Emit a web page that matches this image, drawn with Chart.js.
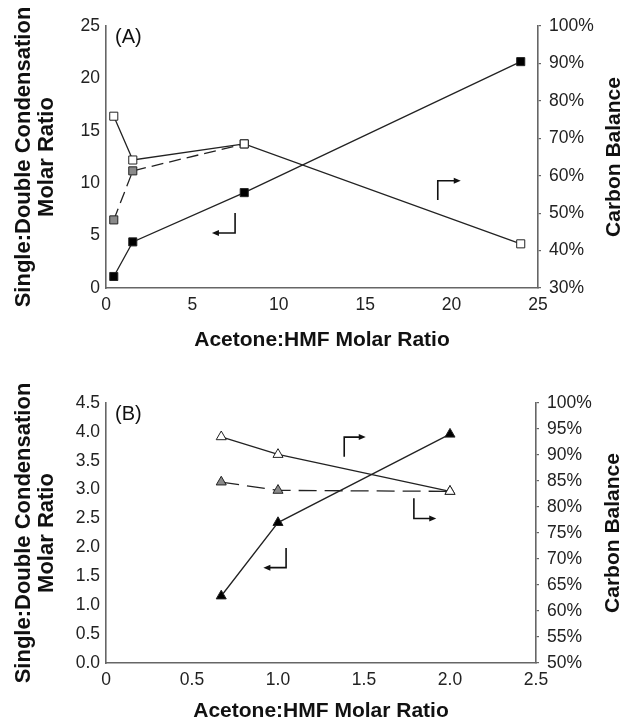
<!DOCTYPE html>
<html><head><meta charset="utf-8">
<script src="https://cdn.jsdelivr.net/npm/chart.js@4/dist/chart.umd.min.js"></script>
<style>
html,body{margin:0;padding:0;background:#fff;overflow:hidden;width:624px;height:722px;}
canvas{position:absolute;left:0;display:block;}
#cA{top:0}
#cB{top:360px}
</style></head><body>
<canvas id="cA" width="624" height="360"></canvas>
<canvas id="cB" width="624" height="362"></canvas>
<script>
// ---------- Panel (A) data ----------
const ratioA = [0.45, 1.55, 8, 24];               // Acetone:HMF molar ratio
const singleDoubleA = [1.1, 4.4, 9.1, 21.6];      // black squares, left axis
const carbonA = [75.9, 64.2, 68.5, 41.8];         // white squares, right axis (%)
const carbonGrayA = [48.2, 61.3, 68.5];           // gray squares (dashed), right axis (%)
const xRangeA = [0, 25, 5];
const leftRangeA = [0, 25, 5];
const rightRangeA = [30, 100, 10];

// ---------- Panel (B) data ----------
const ratioB = [0.67, 1, 2];
const singleDoubleB = [1.16, 2.43, 3.96];         // black triangles, left axis
const carbonB = [93.5, 90.1, 83.0];               // white triangles, right axis (%)
const carbonGrayB = [84.8, 83.2, 83.0];           // gray triangles (dashed), right axis (%)
const xRangeB = [0, 2.5, 0.5];
const leftRangeB = [0, 4.5, 0.5];
const rightRangeB = [50, 100, 5];

// annotation arrows in data units: [x, yStart, yCorner, xTip]
const arrowsA = [[7.47, 7.16, 5.25, 6.13], [19.2, 8.4, 10.24, 20.53]];
const arrowsB = [[1.047, 1.99, 1.65, 0.915], [1.385, 3.57, 3.91, 1.51], [1.79, 2.85, 2.50, 1.92]];

const FONT = "'Liberation Sans', Arial, Helvetica, sans-serif";
Chart.defaults.font.family = FONT;
Chart.defaults.color = '#222';

const pts = (xs, ys) => ys.map((y, i) => ({x: xs[i], y}));

function overlay(panel, arrows, rtX) {
  return {
    id: 'overlay' + panel,
    afterDraw(chart) {
      const ctx = chart.ctx, xs = chart.scales.x, ys = chart.scales.y, ca = chart.chartArea;
      ctx.save();
      ctx.fillStyle = '#111';
      ctx.font = '20px ' + FONT;
      ctx.textAlign = 'left';
      ctx.textBaseline = 'middle';
      ctx.fillText(panel, ca.left + 9, ca.top + 11);
      ctx.save();
      ctx.translate(rtX, (ca.top + ca.bottom) / 2);
      ctx.rotate(-Math.PI / 2);
      ctx.textAlign = 'center';
      ctx.font = 'bold 21px ' + FONT;
      ctx.fillText('Carbon Balance', 0, 0);
      ctx.restore();
      ctx.strokeStyle = '#111';
      ctx.lineWidth = 1.6;
      for (const a of arrows) {
        const px = xs.getPixelForValue(a[0]);
        const p1 = ys.getPixelForValue(a[1]);
        const p2 = ys.getPixelForValue(a[2]);
        const pt = xs.getPixelForValue(a[3]);
        const dir = Math.sign(pt - px);
        ctx.beginPath();
        ctx.moveTo(px, p1);
        ctx.lineTo(px, p2);
        ctx.lineTo(pt - dir * 5, p2);
        ctx.stroke();
        ctx.beginPath();
        ctx.moveTo(pt, p2);
        ctx.lineTo(pt - dir * 7, p2 - 3);
        ctx.lineTo(pt - dir * 7, p2 + 3);
        ctx.closePath();
        ctx.fill();
      }
      ctx.restore();
    }
  };
}

function makeChart(id, cfg) {
  const axisColor = '#666';
  const style = (fill, shape, r, dash) => ({
    borderColor: '#222', borderWidth: 1.3, borderDash: dash || [],
    pointStyle: shape, pointRadius: r, pointHoverRadius: r,
    pointBackgroundColor: fill, pointBorderColor: '#222', pointBorderWidth: 1,
    tension: 0, fill: false
  });
  return new Chart(document.getElementById(id), {
    type: 'line',
    data: {
      datasets: [
        Object.assign({label: 'Carbon balance', data: pts(cfg.x, cfg.white), yAxisID: 'y1'}, style('#fff', cfg.shape, cfg.r)),
        Object.assign({label: 'Carbon balance (dashed)', data: pts(cfg.x, cfg.gray), yAxisID: 'y1'}, style('#8a8a8a', cfg.shape, cfg.r, cfg.dash)),
        Object.assign({label: 'Single:Double', data: pts(cfg.x, cfg.black), yAxisID: 'y'}, style('#000', cfg.shape, cfg.r))
      ]
    },
    options: {
      responsive: false,
      animation: false,
      layout: {padding: {top: cfg.padTop, left: 0, right: 0, bottom: 0}},
      plugins: {legend: {display: false}, tooltip: {enabled: false}},
      scales: {
        x: {
          type: 'linear', min: cfg.xr[0], max: cfg.xr[1],
          grid: {display: false, drawTicks: false},
          border: {display: true, color: axisColor, width: 1.6},
          ticks: {stepSize: cfg.xr[2], autoSkip: false, maxRotation: 0, padding: 7, font: {size: 17.5}, color: '#222'},
          title: {display: true, text: 'Acetone:HMF Molar Ratio', font: {size: 21, weight: 'bold', lineHeight: 1}, color: '#111', padding: {top: 0, bottom: cfg.xTitlePad}},
          afterFit: s => { s.height = cfg.xH; }
        },
        y: {
          type: 'linear', position: 'left', min: cfg.lr[0], max: cfg.lr[1],
          grid: {display: false, drawTicks: false},
          border: {display: true, color: axisColor, width: 1.6},
          ticks: {stepSize: cfg.lr[2], padding: 6, font: {size: 17.5}, color: '#222', callback: cfg.lfmt},
          title: {display: true, text: ['Single:Double Condensation', 'Molar Ratio'], font: {size: 22, weight: 'bold', lineHeight: 1.05}, color: '#111', padding: {top: 12, bottom: 0}},
          afterFit: s => { s.width = 106; }
        },
        y1: {
          type: 'linear', position: 'right', min: cfg.rr[0], max: cfg.rr[1],
          grid: {display: true, drawOnChartArea: false, drawTicks: true, tickLength: 3, color: axisColor, lineWidth: 1.2},
          border: {display: true, color: axisColor, width: 1.6},
          ticks: {stepSize: cfg.rr[2], padding: 8, font: {size: 17.5}, color: '#222', callback: v => v + '%'},
          afterFit: s => { s.width = cfg.rW; }
        }
      }
    },
    plugins: [overlay(cfg.panel, cfg.arrows, cfg.rtX)]
  });
}

makeChart('cA', {
  panel: '(A)', x: ratioA, white: carbonA, gray: carbonGrayA, black: singleDoubleA,
  shape: 'rect', r: 5.7, dash: [12, 6],
  xr: xRangeA, lr: leftRangeA, rr: rightRangeA,
  lfmt: v => String(v),
  padTop: 26, xH: 72, xTitlePad: 9, rW: 86, rtX: 614, arrows: arrowsA
});

makeChart('cB', {
  panel: '(B)', x: ratioB, white: carbonB, gray: carbonGrayB, black: singleDoubleB,
  shape: 'triangle', r: 5.8, dash: [18, 8],
  xr: xRangeB, lr: leftRangeB, rr: rightRangeB,
  lfmt: v => Number(v).toFixed(1),
  padTop: 43, xH: 59, xTitlePad: 0, rW: 88, rtX: 613, arrows: arrowsB
});
</script>
</body></html>
